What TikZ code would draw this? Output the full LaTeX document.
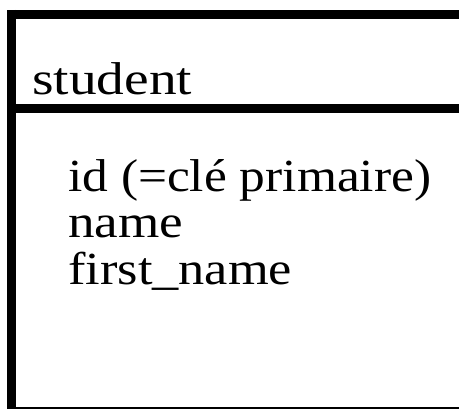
\documentclass[tikz,border=0pt]{standalone}
\usepackage{graphicx}
\usepackage{fontspec}
\setmainfont{Liberation Serif}
\newcommand{\fitw}[2]{\resizebox{#1}{\height}{#2}}
\begin{document}
\begin{tikzpicture}[x=1pt,y=1pt,
  thickbar/.style={line width=9pt,line cap=butt},
  thinbar/.style={line width=2.3pt},
  lbl/.style={anchor=base west,inner sep=0pt,font=\fontsize{46}{52}\selectfont}]
\useasboundingbox (0,0) rectangle (459,409);
\coordinate (tl) at (7,394.5);
\coordinate (tr) at (459,394.5);
\coordinate (lt) at (11.5,399);
\coordinate (lb) at (11.5,0);
\coordinate (sl) at (16,300.5);
\coordinate (sr) at (459,300.5);
\coordinate (bl) at (16,1.2);
\coordinate (br) at (459,1.2);
\draw[thickbar] (tl) -- (tr);
\draw[thickbar] (lt) -- (lb);
\draw[thickbar] (sl) -- (sr);
\draw[thinbar] (bl) -- (br);
\node[lbl] (title) at (32,314) {\fitw{160pt}{student}};
\node[lbl] (a1) at (68,217) {\fitw{363pt}{id (=clé primaire)}};
\node[lbl] (a2) at (68,171) {\fitw{115pt}{name}};
\node[lbl] (a3) at (68,124) {\fitw{224pt}{first\_name}};
\end{tikzpicture}
\end{document}
